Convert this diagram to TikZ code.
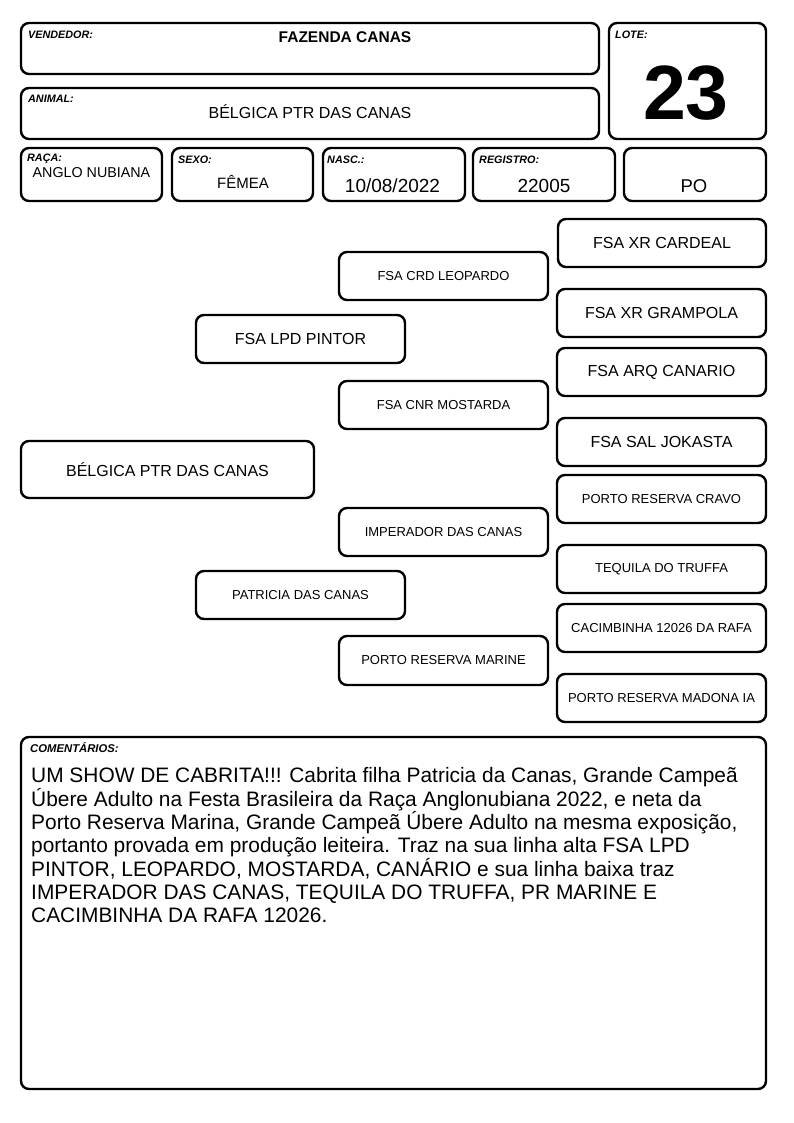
\documentclass[tikz,border=0pt]{standalone}
\usepackage{fontspec}
\setmainfont{Liberation Sans}
\tikzset{
  box/.style={draw=black, line width=2.4pt, rounded corners=8pt, inner sep=0pt},
  lbl/.style={anchor=base west, inner sep=0pt, font=\fontsize{10.8}{12}\selectfont\bfseries\itshape},
  big/.style={inner sep=0pt, font=\fontsize{16}{19}\selectfont},
  small/.style={inner sep=0pt, font=\fontsize{13}{15}\selectfont},
  val/.style={anchor=base, inner sep=0pt}
}
\begin{document}
\begin{tikzpicture}[x=1pt,y=-1pt]
\useasboundingbox (0,0) rectangle (794,1123);
% header boxes
\node[box, minimum width=578, minimum height=51] (vend) at (310,48.5) {};
\node[box, minimum width=578, minimum height=51] (anim) at (310,113.5) {};
\node[box, minimum width=157, minimum height=116] (lote) at (687.5,81) {};
\node[box, minimum width=141, minimum height=53] (raca) at (91.5,174.5) {};
\node[box, minimum width=141, minimum height=53] (sexo) at (242.5,174.5) {};
\node[box, minimum width=142, minimum height=53] (nasc) at (394,174.5) {};
\node[box, minimum width=142, minimum height=53] (reg) at (544,174.5) {};
\node[box, minimum width=142, minimum height=53] (po) at (695,174.5) {};
% labels
\node[lbl] (lvend) at (28,39) {VENDEDOR:};
\node[lbl] (lanim) at (28,103) {ANIMAL:};
\node[lbl] (llote) at (615,39) {LOTE:};
\node[lbl] (lraca) at (27,162) {RAÇA:};
\node[lbl] (lsexo) at (178,164) {SEXO:};
\node[lbl] (lnasc) at (327,164) {NASC.:};
\node[lbl] (lreg) at (479,164) {REGISTRO:};
% values
\node[val, font=\fontsize{15.5}{18}\selectfont\bfseries] (tvend) at (345,43) {FAZENDA CANAS};
\node[val, font=\fontsize{16}{19}\selectfont] (tanim) at (310,119) {BÉLGICA PTR DAS CANAS};
\node[val, font=\fontsize{77}{80}\selectfont\bfseries] (tlote) at (686,120) {23};
\node[val, font=\fontsize{14.3}{17}\selectfont] (traca) at (91.5,178) {ANGLO NUBIANA};
\node[val, font=\fontsize{15}{18}\selectfont] (tsexo) at (243,189) {FÊMEA};
\node[val, font=\fontsize{19}{22}\selectfont] (tnasc) at (392.5,193) {10/08/2022};
\node[val, font=\fontsize{19}{22}\selectfont] (treg) at (544,193) {22005};
\node[val, font=\fontsize{18.5}{21}\selectfont] (tpo) at (694,193) {PO};
% pedigree
\node[box, big, minimum width=293, minimum height=57] (belg) at (167.5,469.5) {BÉLGICA PTR DAS CANAS};
\node[box, big, minimum width=209, minimum height=48] (pint) at (300.5,339) {FSA LPD PINTOR};
\node[box, small, minimum width=209, minimum height=48] (patr) at (300.5,595) {PATRICIA DAS CANAS};
\node[box, small, minimum width=209, minimum height=48] (leop) at (443.5,276) {FSA CRD LEOPARDO};
\node[box, small, minimum width=209, minimum height=48] (most) at (443.5,405) {FSA CNR MOSTARDA};
\node[box, small, minimum width=209, minimum height=48] (imp) at (443.5,532) {IMPERADOR DAS CANAS};
\node[box, small, minimum width=209, minimum height=49] (mari) at (443.5,660.5) {PORTO RESERVA MARINE};
\node[box, big, minimum width=208, minimum height=48] (card) at (662,243) {FSA XR CARDEAL};
\node[box, big, minimum width=209, minimum height=48] (gram) at (661.5,313) {FSA XR GRAMPOLA};
\node[box, big, minimum width=209, minimum height=48] (cana) at (661.5,372) {FSA ARQ CANARIO};
\node[box, big, minimum width=209, minimum height=48] (joka) at (661.5,442) {FSA SAL JOKASTA};
\node[box, small, minimum width=209, minimum height=48] (crav) at (661.5,499) {PORTO RESERVA CRAVO};
\node[box, small, minimum width=209, minimum height=48] (tequ) at (661.5,569) {TEQUILA DO TRUFFA};
\node[box, small, minimum width=209, minimum height=48] (caci) at (661.5,628) {CACIMBINHA 12026 DA RAFA};
\node[box, small, minimum width=209, minimum height=48] (mado) at (661.5,698) {PORTO RESERVA MADONA IA};
% comments
\node[box, minimum width=745, minimum height=352] (com) at (393.5,913) {};
\node[lbl, font=\fontsize{11.3}{13}\selectfont\bfseries\itshape] (lcom) at (30,752) {COMENTÁRIOS:};
\node[anchor=north west, inner sep=0pt, align=left, font=\fontsize{20.9}{23.3}\selectfont] (tcom) at (31,767.5) {UM SHOW DE CABRITA!!! Cabrita filha Patricia da Canas, Grande Campeã\\
Úbere Adulto na Festa Brasileira da Raça Anglonubiana 2022, e neta da\\
Porto Reserva Marina, Grande Campeã Úbere Adulto na mesma exposição,\\
portanto provada em produção leiteira. Traz na sua linha alta FSA LPD\\
PINTOR, LEOPARDO, MOSTARDA, CANÁRIO e sua linha baixa traz\\
IMPERADOR DAS CANAS, TEQUILA DO TRUFFA, PR MARINE E\\
CACIMBINHA DA RAFA 12026.};
\end{tikzpicture}
\end{document}
